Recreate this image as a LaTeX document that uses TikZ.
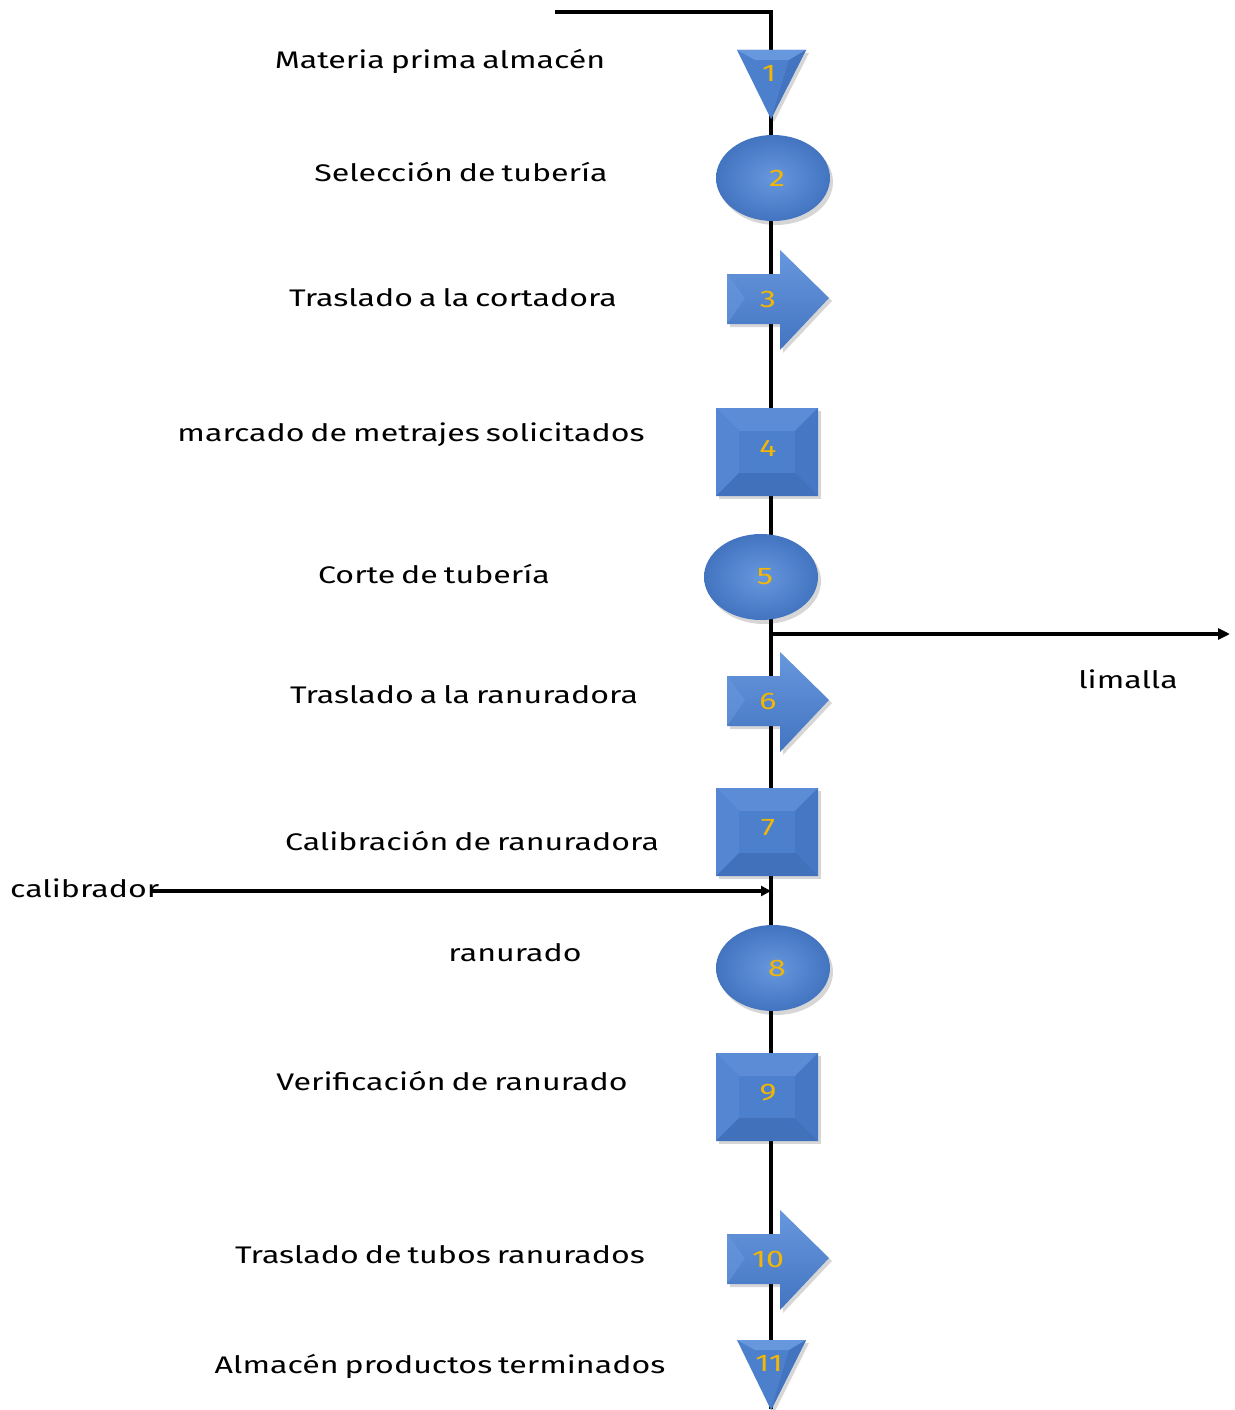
\documentclass[tikz,border=0pt]{standalone}
\usepackage{fontspec}
\setmainfont{Fira Sans}[FakeStretch=1.34, WordSpace=0.7]
\usetikzlibrary{arrows.meta}
\definecolor{bl}{HTML}{6797DD}
\definecolor{bm}{HTML}{4C7FCC}
\definecolor{bm2}{HTML}{4374C0}
\definecolor{bd}{HTML}{3A68B0}
\definecolor{numc}{HTML}{F2B705}
\tikzset{
  lbl/.style={font=\fontsize{24}{28}\selectfont, text=black, inner sep=0pt},
  num/.style={font=\fontsize{24}{28}\selectfont, text=numc, inner sep=0pt},
  flow/.style={line width=3.4pt, black},
  shadowfill/.style={fill=black, opacity=0.16},
}
\newcommand\opsq[4]{%
  \fill[shadowfill] ({#2-48},{#3-41}) rectangle ({#2+54},{#3+47});
  \fill[bm] ({#2-51},{#3-44}) rectangle ({#2+51},{#3+44});
  \fill[bl!55!bm] ({#2-51},{#3-44}) -- ({#2+51},{#3-44}) -- ({#2+28},{#3-21}) -- ({#2-28},{#3-21}) -- cycle;
  \fill[bl!30!bm] ({#2-51},{#3-44}) -- ({#2-28},{#3-21}) -- ({#2-28},{#3+21}) -- ({#2-51},{#3+44}) -- cycle;
  \fill[bm2!70!bm] ({#2+51},{#3-44}) -- ({#2+28},{#3-21}) -- ({#2+28},{#3+21}) -- ({#2+51},{#3+44}) -- cycle;
  \fill[bd!60!bm] ({#2-51},{#3+44}) -- ({#2+51},{#3+44}) -- ({#2+28},{#3+21}) -- ({#2-28},{#3+21}) -- cycle;
  \node[num] (#1) at ({#2+1},{#3-4}) {#4};
}
\newcommand\opel[4]{%
  \fill[shadowfill] ({#2+3},{#3+4}) ellipse [x radius=57, y radius=43];
  \shade[inner color=bl, outer color=bm2] (#2,#3) ellipse [x radius=57, y radius=43];
  \node[num] (#1) at ({#2+4},{#3}) {#4};
}
\newcommand\oparr[3]{%
  \fill[shadowfill] (730,{#2-21}) -- (783,{#2-21}) -- (783,{#2-45}) -- (832,{#2+3}) -- (783,{#2+55}) -- (783,{#2+29}) -- (730,{#2+29}) -- cycle;
  \shade[top color=bl, bottom color=bm2] (727,{#2-24}) -- (780,{#2-24}) -- (780,{#2-48}) -- (829,{#2}) -- (780,{#2+52}) -- (780,{#2+26}) -- (727,{#2+26}) -- cycle;
  \fill[bl, opacity=0.6] (727,{#2-24}) -- (745,{#2}) -- (727,{#2+26}) -- cycle;
  \node[num] (#1) at (768,{#2+1}) {#3};
}
\newcommand\optri[4]{%
  \fill[shadowfill] (740,{#2+3}) -- (809,{#2+3}) -- (774,{#3+3}) -- cycle;
  \fill[bm] (737,#2) -- (806,#2) -- (771,#3) -- cycle;
  \fill[bl] (737,#2) -- (806,#2) -- (789,{#2+10}) -- (755,{#2+10}) -- cycle;
  \fill[bm2] (806,#2) -- (789,{#2+10}) -- (771,#3) -- cycle;
  \node[num] (#1) at (769,{#2+23}) {#4};
}
\begin{document}
\begin{tikzpicture}[x=1pt,y=-1pt]
\useasboundingbox[fill=white] (0,0) rectangle (1234,1410);
% spine
\coordinate (tl) at (555,12);
\coordinate (tc) at (771,12);
\coordinate (bot) at (771,1409);
\draw[flow] (tl) -- (tc) -- (bot);
% side flows
\coordinate (limS) at (771,634);
\coordinate (limE) at (1230,634);
\draw[flow, -{Triangle[length=12pt,width=11pt]}] (limS) -- (limE);
\coordinate (calS) at (150,891);
\coordinate (calE) at (771,891);
\draw[flow, -{Triangle[length=10pt,width=10pt]}] (calS) -- (calE);
% symbols
\optri{s1}{50}{119}{1}
\opel{s2}{773}{178}{2}
\oparr{s3}{298}{3}
\opsq{s4}{767}{452}{4}
\opel{s5}{761}{577}{5}
\oparr{s6}{700}{6}
\opsq{s7}{767}{832}{7}
\opel{s8}{773}{968}{8}
\opsq{s9}{767}{1097}{9}
\oparr{s10}{1258}{10}
\optri{s11}{1340}{1410}{11}
% labels
\node[lbl] (l1) at (440,61) {Materia prima almacén};
\node[lbl] (l2) at (461,172) {Selección de tubería};
\node[lbl] (l3) at (453,298) {Traslado a la cortadora};
\node[lbl] (l4) at (411,435) {marcado de metrajes solicitados};
\node[lbl] (l5) at (434,574) {Corte de tubería};
\node[lbl] (l6) at (464,695) {Traslado a la ranuradora};
\node[lbl] (l7) at (472,841) {Calibración de ranuradora};
\node[lbl] (l8) at (515,953) {ranurado};
\node[lbl] (l9) at (452,1081) {Verificación de ranurado};
\node[lbl] (l10) at (440,1255) {Traslado de tubos ranurados};
\node[lbl] (l11) at (440,1366) {Almacén productos terminados};
\node[lbl] (llim) at (1128,679) {limalla};
\node[lbl, anchor=west] (lcal) at (10,888) {calibrador};
\end{tikzpicture}
\end{document}
